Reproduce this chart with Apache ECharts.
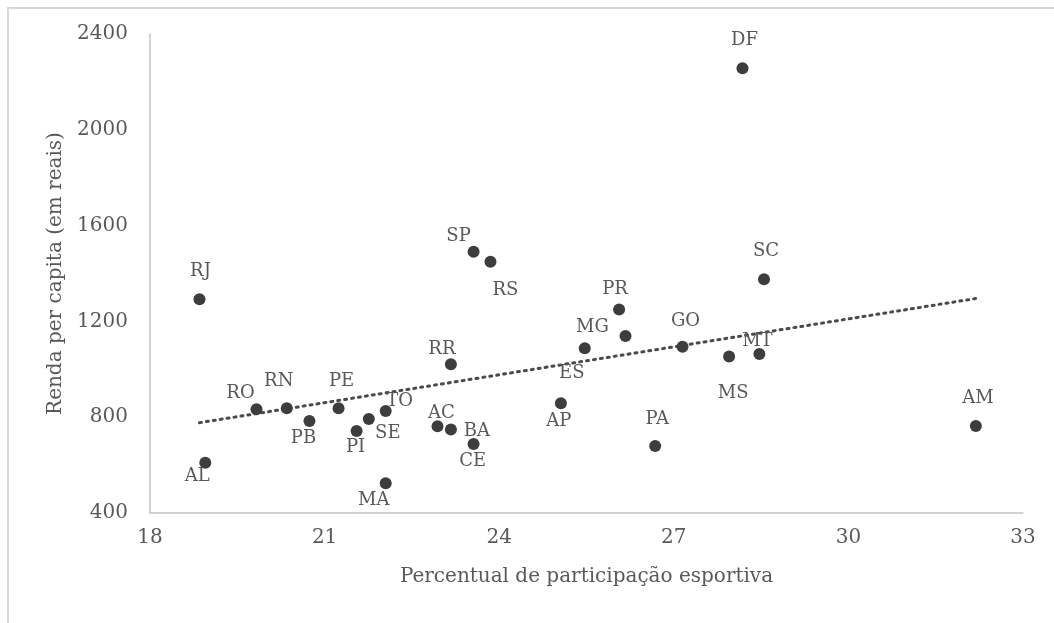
<!DOCTYPE html>
<html>
<head>
<meta charset="utf-8">
<script src="https://cdn.jsdelivr.net/npm/echarts@6/dist/echarts.min.js"></script>
<style>
  html, body { margin: 0; padding: 0; background: #ffffff; }
  #chart { width: 1054px; height: 623px; }
</style>
</head>
<body>
<div id="chart"></div>
<script>
// ---- Data ----
const states = ['RJ','AL','RO','RN','PB','PE','PI','SE','TO','MA','AC','BA','CE','RR','SP','RS','AP','ES','MG','PR','GO','MS','MT','SC','DF','PA','AM'];
const participation = [18.85,18.95,19.83,20.35,20.74,21.24,21.55,21.76,22.05,22.05,22.94,23.17,23.56,23.17,23.56,23.85,25.06,25.47,26.17,26.06,27.15,27.95,28.47,28.55,28.18,26.68,32.19];
const income = [1292,610,833,837,784,837,742,792,826,524,762,749,688,1021,1491,1449,858,1088,1139,1250,1094,1053,1064,1376,2257,680,763];

// Trend line end points
const trendX = [18.85, 32.2];
const trendY = [777, 1296];

// Axis ticks
const xTicks = { min: 18, max: 33, interval: 3 };
const yTicks = { min: 400, max: 2400, interval: 400 };

// Label placement (pixel offsets of each data label from its point) - styling only
const labelOffsets = {
  RJ:[1,-28], AL:[-8,14], RO:[-16,-16], RN:[-8,-27], PB:[-6,17], PE:[3,-27], PI:[-1,16],
  SE:[19,14], TO:[14,-10], MA:[-12,17], AC:[4,-13], BA:[26,2], CE:[-1,17], RR:[-9,-15],
  SP:[-15,-15], RS:[15,29], AP:[-2,18], ES:[-13,25], MG:[-33,-9], PR:[-4,-20], GO:[3,-25],
  MS:[4,37], MT:[-2,-13], SC:[2,-28], DF:[2,-28], PA:[2,-27], AM:[2,-28]
};

const textColor = '#595959';
const serif = 'DejaVu Serif';

const scatterData = states.map((s, i) => ({
  name: s,
  value: [participation[i], income[i]],
  label: { offset: labelOffsets[s] }
}));

const trendData = trendX.map((x, i) => [x, trendY[i]]);

const chart = echarts.init(document.getElementById('chart'), null, { renderer: 'canvas' });
chart.setOption({
  backgroundColor: '#ffffff',
  animation: false,
  graphic: [{
    type: 'rect',
    shape: { x: 8, y: 8, width: 1200, height: 800 },
    style: { fill: 'none', stroke: '#d9d9d9', lineWidth: 2 },
    silent: true, z: -1
  }],
  grid: { left: 150, right: 31, top: 34, bottom: 110, containLabel: false },
  xAxis: {
    type: 'value',
    min: xTicks.min, max: xTicks.max, interval: xTicks.interval,
    name: 'Percentual de participação esportiva',
    nameLocation: 'middle', nameGap: 54,
    nameTextStyle: { color: textColor, fontFamily: serif, fontSize: 20 },
    axisLine: { show: true, lineStyle: { color: '#c4c4c4', width: 1.5 } },
    axisTick: { show: false },
    splitLine: { show: false },
    axisLabel: { color: textColor, fontFamily: serif, fontSize: 20, margin: 15, formatter: v => String(v) }
  },
  yAxis: {
    type: 'value',
    min: yTicks.min, max: yTicks.max, interval: yTicks.interval,
    name: 'Renda per capita (em reais)',
    nameLocation: 'middle', nameGap: 84, nameRotate: 90,
    nameTextStyle: { color: textColor, fontFamily: serif, fontSize: 20 },
    axisLine: { show: true, lineStyle: { color: '#c4c4c4', width: 1.5 } },
    axisTick: { show: false },
    splitLine: { show: false },
    axisLabel: { color: textColor, fontFamily: serif, fontSize: 20, margin: 22, formatter: v => String(v) }
  },
  series: [
    {
      type: 'scatter',
      data: scatterData,
      symbol: 'circle',
      symbolSize: 12,
      itemStyle: { color: '#3d3d3d', opacity: 1 },
      label: {
        show: true,
        position: 'inside',
        formatter: p => p.name,
        color: textColor,
        fontFamily: serif,
        fontSize: 18
      },
      z: 3
    },
    {
      type: 'line',
      data: trendData,
      symbol: 'none',
      lineStyle: { color: '#4a4a4a', width: 3, type: [2, 5], cap: 'round' },
      z: 2
    }
  ]
});
</script>
</body>
</html>
